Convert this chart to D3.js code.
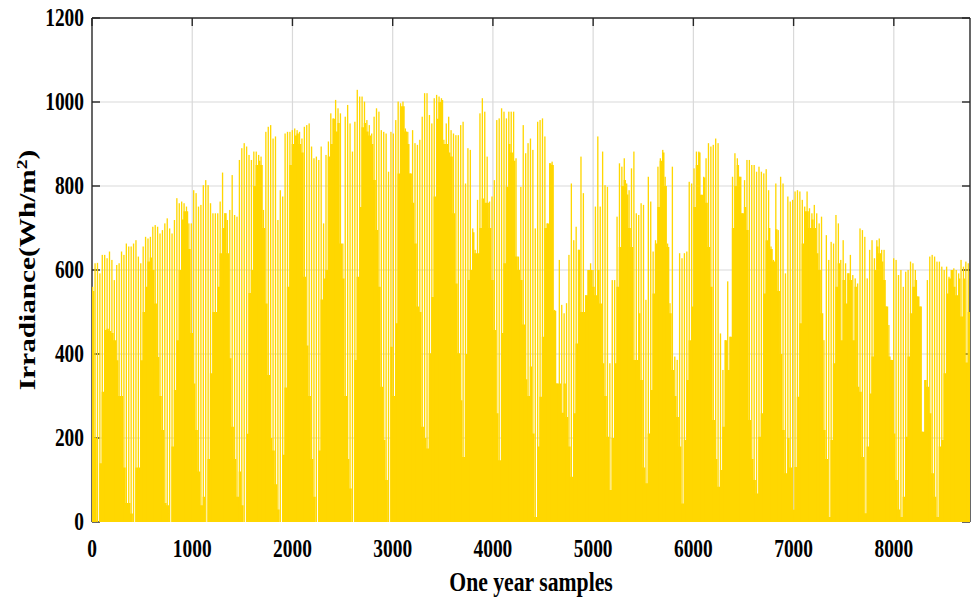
<!DOCTYPE html>
<html>
<head>
<meta charset="utf-8">
<script src="https://cdn.jsdelivr.net/npm/d3@7"></script>
<style>
body { margin: 0; background: #fff; }
text { font-family: "Liberation Serif", "Times New Roman", serif; font-weight: bold; fill: #000; }
</style>
</head>
<body>
<svg id="chart" width="973" height="598"></svg>
<script>
// peak irradiance of each day (365 days, 24 samples each)
var dailyPeak = [
  560,616,617,592,636,636,628,644,624,576, 612,616,644,636,663,656,656,663,671,632,
  616,656,679,675,679,703,707,703,687,695, 711,723,699,687,719,771,759,763,759,751,
  711,711,790,783,751,755,802,814,802,759, 735,735,735,763,832,735,719,743,826,731,
  727,862,890,902,894,874,862,882,882,874, 870,743,929,941,945,913,918,719,790,775,
  925,929,929,933,937,933,929,913,941,945, 949,
  894,866,870,862,894,711,874,906,973, 961,1005,985,973,663,965,993,949,882,953,
  1029,1013,1013,1001,957,945,925,965,985,977, 933,929,925,834,929,925,957,1001,997,1001,
  937,929,830,933,902,898,910,965,1021,1021, 969,949,1009,1017,1013,1009,910,949,965,933,
  925,921,921,945,953,806,890,886,699,648, 767,973,1009,977,870,763,775,814,957,961,
  985,977,961,977,977,977,866,632,798,945, 878,902,
  913,886,699,953,957,961,918,711, 854,858,505,330,624,517,497,521,636,806,
  671,703,648,870,783,540,600,616,600,751, 918,751,882,802,798,378,576,576,727,854,
  846,866,806,790,842,882,735,731,759,755, 529,822,763,644,671,846,866,886,822,663,
  521,846,394,386,640,628,640,644,810,806, 842,882,882,779,822,866,902,894,898,913,
  902,449,362,433,573,441,822,878,866,822, 735,814,862,
  862,850,850,834,846,834,830, 840,790,656,624,806,695,822,806,592,775,
  763,767,787,790,787,767,751,787,747,735, 755,735,711,727,433,683,624,667,663,731,
  711,624,671,616,592,636,588,580,568,699, 695,679,580,648,671,628,671,675,648,648,
  513,469,386,628,624,588,600,560,596,600, 620,616,600,537,513,215,338,576,632,636,
  632,620,620,608,600,608,584,600,604,600, 592,624,608,620,616
];

// level up to which the gap between day spikes is filled
var dailyBase = [
  550,200,0,140,310,457,460,455,450,433, 385,300,300,130,45,45,20,0,130,130,
  385,500,560,620,630,600,520,393,300,219, 45,40,0,180,314,433,600,720,740,740,
  650,450,330,219,120,40,60,0,150,354, 500,500,560,640,700,735,640,390,227,150,
  60,120,40,0,210,545,600,800,850,860, 850,700,520,350,200,170,90,30,0,160,
  320,560,850,900,920,925,900,880,584,420, 300,150,60,0,170,530,580,600,870,900,
  960,930,950,663,580,300,150,80,0,386, 584,750,940,950,930,920,900,814,695,560,
  322,195,100,0,417,300,473,830,990,990, 930,900,830,760,663,513,500,227,200,175,
  402,536,775,960,1000,1005,900,900,880,870, 735,568,402,290,155,400,576,600,690,640,
  640,700,770,760,760,700,576,457,259,147, 450,616,798,900,880,860,632,600,576,470,
  340,300,370,211,12,180,298,441,700,850, 854,850,503,330,330,260,330,250,180,108,
  259,425,648,500,500,540,600,600,560,540, 600,520,378,300,203,76,200,378,560,655,
  800,814,780,700,655,386,386,497,338,130, 92,211,314,544,663,750,860,880,800,655,
  497,362,300,250,180,44,195,338,433,513, 750,850,880,779,820,760,655,560,243,150,
  84,124,227,433,362,441,700,800,850,822, 735,750,695,243,150,100,68,203,259,544,
  671,700,650,620,697,550,400,219,116,200, 130,29,131,298,473,663,740,740,700,720,
  700,640,600,497,219,150,12,195,378,560, 616,433,576,520,616,576,433,560,322,310,
  155,21,180,306,394,600,656,640,620,576, 560,394,386,211,100,30,12,60,203,394,
  497,560,576,537,513,215,338,322,259,116, 60,12,180,195,354,544,580,600,560,540,
  580,489,580,380,500
];

var xTicks = [0, 1000, 2000, 3000, 4000, 5000, 6000, 7000, 8000];
var yTicks = [0, 200, 400, 600, 800, 1000, 1200];
var samplesPerDay = 24, totalSamples = 8760;

var svg = d3.select("#chart");
var margin = {top: 18, right: 3, bottom: 76, left: 92},
    width = 973 - margin.left - margin.right,
    height = 598 - margin.top - margin.bottom;

var g = svg.append("g").attr("transform", "translate(" + margin.left + "," + margin.top + ")");

var x = d3.scaleLinear().domain([0, totalSamples]).range([0, width]);
var y = d3.scaleLinear().domain([0, 1200]).range([height, 0]);

// grid behind everything
g.append("g").selectAll("line").data(xTicks.slice(1)).enter().append("line")
    .attr("x1", d => x(d)).attr("x2", d => x(d))
    .attr("y1", 0).attr("y2", height)
    .style("stroke", "#d9d9d9").style("stroke-width", 1.2);
g.append("g").selectAll("line").data(yTicks.slice(1, -1)).enter().append("line")
    .attr("x1", 0).attr("x2", width)
    .attr("y1", d => y(d)).attr("y2", d => y(d))
    .style("stroke", "#d9d9d9").style("stroke-width", 1.2);

// box + inward ticks (the bars are painted over them, like in the figure)
var axisColor = "#262626", tickLen = 8;
var box = g.append("g").style("stroke", axisColor).style("stroke-width", 1.4);
box.append("line").attr("x1", 0).attr("x2", width).attr("y1", 0).attr("y2", 0);
box.append("line").attr("x1", 0).attr("x2", 0).attr("y1", 0).attr("y2", height);
box.append("line").attr("x1", width).attr("x2", width).attr("y1", 0).attr("y2", height);
box.selectAll(".ty").data(yTicks).enter().append("line")
    .attr("x1", 0).attr("x2", tickLen).attr("y1", d => y(d)).attr("y2", d => y(d));
box.selectAll(".tyr").data(yTicks).enter().append("line")
    .attr("x1", width).attr("x2", width - tickLen).attr("y1", d => y(d)).attr("y2", d => y(d));
box.selectAll(".tx").data(xTicks).enter().append("line")
    .attr("x1", d => x(d)).attr("x2", d => x(d)).attr("y1", 0).attr("y2", tickLen);

// bars
var barColor = "#ffd700";
var dayW = x(samplesPerDay) - x(0);

var baseArea = d3.area()
    .x((d, i) => x(i * samplesPerDay))
    .y0(y(0))
    .y1((d, i) => y(Math.min(d, dailyPeak[Math.min(i, dailyPeak.length - 1)])))
    .curve(d3.curveStepAfter);
g.append("path")
    .datum(dailyBase.concat([dailyBase[dailyBase.length - 1]]))
    .attr("d", baseArea)
    .style("fill", barColor);

g.append("g").selectAll("rect").data(dailyPeak).enter().append("rect")
    .attr("x", (d, i) => x(i * samplesPerDay))
    .attr("width", dayW * 0.55)
    .attr("y", d => y(d))
    .attr("height", d => y(0) - y(d))
    .style("fill", barColor);

// tick labels (figure text is stretched vertically)
var stretch = 1.3;
g.append("g").selectAll("g").data(xTicks).enter().append("g")
    .attr("transform", d => "translate(" + x(d) + "," + (height + 35) + ") scale(1," + stretch + ")")
    .append("text")
    .style("font-size", "19.4px").style("text-anchor", "middle")
    .text(d => d);

g.append("g").selectAll("g").data(yTicks).enter().append("g")
    .attr("transform", d => "translate(-8," + (y(d) + 8.3) + ") scale(1," + stretch + ")")
    .append("text")
    .style("font-size", "19.4px").style("text-anchor", "end")
    .text(d => d);

// axis titles
svg.append("g")
    .attr("transform", "translate(" + (margin.left + width / 2) + ",591) scale(1," + stretch + ")")
    .append("text")
    .style("font-size", "21.7px").style("text-anchor", "middle")
    .text("One year samples");

var yTitle = svg.append("g")
    .attr("transform", "translate(35," + (margin.top + height / 2) + ") scale(1," + stretch + ") rotate(-90)")
    .append("text")
    .style("font-size", "22.5px").style("text-anchor", "middle");
yTitle.append("tspan").text("Irradiance(Wh/m");
yTitle.append("tspan").attr("dy", -8).style("font-size", "15px").text("2");
yTitle.append("tspan").attr("dy", 8).text(")");
</script>
</body>
</html>
